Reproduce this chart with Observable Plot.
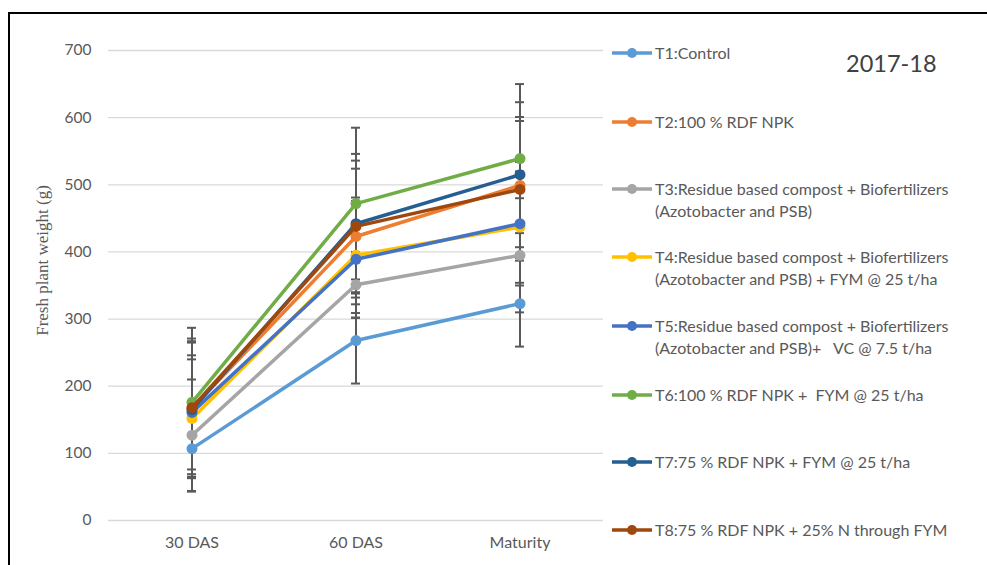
<!DOCTYPE html>
<html>
<head>
<meta charset="utf-8">
<script src="https://cdn.jsdelivr.net/npm/d3@7"></script>
<script src="https://cdn.jsdelivr.net/npm/@observablehq/plot@0.6"></script>
<style>
  html, body { margin: 0; padding: 0; background: #fff; }
  #wrap { position: relative; width: 987px; height: 565px; overflow: hidden; font-family: Lato, "Open Sans", sans-serif; }
  #frame { position: absolute; left: 8px; top: 12px; width: 990px; height: 600px; border-left: 2px solid #000; border-top: 2px solid #000; box-sizing: border-box; pointer-events: none; }
  #year { position: absolute; left: 846px; top: 49px; font-size: 23.5px; color: #404040; }
  .leg { position: absolute; left: 612px; }
  .leg svg { position: absolute; left: 0; top: 0; }
  .leg .txt { position: absolute; left: 43px; top: -11px; white-space: pre; font-size: 16px; line-height: 22px; color: #595959; }
</style>
</head>
<body>
<div id="wrap"><div id="chart"></div><div id="frame"></div><div id="year">2017-18</div></div>
<script>
const stages = ["30 DAS", "60 DAS", "Maturity"];
const treatments = ["T1:Control", "T2:100 % RDF NPK", "T3:Residue based compost + Biofertilizers (Azotobacter and PSB)", "T4:Residue based compost + Biofertilizers (Azotobacter and PSB) + FYM @ 25 t/ha", "T5:Residue based compost + Biofertilizers (Azotobacter and PSB)+   VC @ 7.5 t/ha", "T6:100 % RDF NPK +  FYM @ 25 t/ha", "T7:75 % RDF NPK + FYM @ 25 t/ha", "T8:75 % RDF NPK + 25% N through FYM"];
const legendLines = [
  ["T1:Control"],
  ["T2:100 % RDF NPK"],
  ["T3:Residue based compost + Biofertilizers", "(Azotobacter and PSB)"],
  ["T4:Residue based compost + Biofertilizers", "(Azotobacter and PSB) + FYM @ 25 t/ha"],
  ["T5:Residue based compost + Biofertilizers", "(Azotobacter and PSB)+   VC @ 7.5 t/ha"],
  ["T6:100 % RDF NPK +  FYM @ 25 t/ha"],
  ["T7:75 % RDF NPK + FYM @ 25 t/ha"],
  ["T8:75 % RDF NPK + 25% N through FYM"]
];
const colors = ["#5B9BD5", "#ED7D31", "#A5A5A5", "#FFC000", "#4472C4", "#70AD47", "#255E91", "#9E480E"];
// mean values per treatment at 30 DAS, 60 DAS, Maturity
const T1 = [107, 268, 323];
const T2 = [167, 423, 499];
const T3 = [127, 351, 395];
const T4 = [152, 395, 437];
const T5 = [161, 389, 442];
const T6 = [176, 472, 539];
const T7 = [165, 442, 515];
const T8 = [168, 438, 493];
// error bar half-lengths
const E1 = [64, 64, 64];
const E2 = [98, 101, 102];
const E3 = [83, 49, 85];
const E4 = [88, 86, 83];
const E5 = [85, 87, 92];
const E6 = [111, 113, 111];
const E7 = [102, 104, 108];
const E8 = [103, 98, 102];
const yTicks = [0, 100, 200, 300, 400, 500, 600, 700];
const yLabel = "Fresh plant weight (g)";

const series = [T1, T2, T3, T4, T5, T6, T7, T8];
const errs = [E1, E2, E3, E4, E5, E6, E7, E8];
const data = [];
series.forEach((vals, i) => vals.forEach((v, j) => data.push({t: treatments[i], idx: i, stage: stages[j], value: v, lo: v - errs[i][j], hi: v + errs[i][j]})));

const marks = [
  Plot.gridY(yTicks, {stroke: "#d9d9d9", strokeOpacity: 1, strokeWidth: 1.3}),
  Plot.axisY(yTicks, {tickSize: 0, tickPadding: 17, fontSize: 15.5, fill: "#595959", label: null}),
  Plot.axisX({tickSize: 0, tickPadding: 16, fontSize: 16, fill: "#595959", label: null}),
  Plot.text([yLabel], {frameAnchor: "left", dx: -66, dy: -25, rotate: -90, textAnchor: "middle", fontSize: 17, fontFamily: "Liberation Serif", fill: "#595959"}),
  Plot.ruleX(data, {x: "stage", y1: "lo", y2: "hi", stroke: "#595959", strokeWidth: 2}),
  Plot.tickY(data, {x: "stage", y: "lo", stroke: "#595959", strokeWidth: 2}),
  Plot.tickY(data, {x: "stage", y: "hi", stroke: "#595959", strokeWidth: 2})
];
treatments.forEach((t, i) => {
  const d = data.filter(r => r.idx === i);
  marks.push(Plot.line(d, {x: "stage", y: "value", stroke: colors[i], strokeWidth: 3.5}));
  marks.push(Plot.dot(d, {x: "stage", y: "value", r: 5.5, fill: colors[i], stroke: "none"}));
});

const chart = Plot.plot({
  width: 987,
  height: 565,
  marginLeft: 108,
  marginRight: 384,
  marginTop: 50,
  marginBottom: 45,
  style: {fontFamily: "Lato, 'Open Sans', sans-serif", background: "transparent"},
  x: {type: "band", domain: stages, paddingInner: 0.945, paddingOuter: 0.4727, align: 0.5},
  y: {domain: [0, 700]},
  marks
});
document.getElementById("chart").appendChild(chart);

const rowsY = [53, 122, 189, 257, 326, 395, 462, 530];
const wrap = document.getElementById("wrap");
legendLines.forEach((lines, i) => {
  const div = document.createElement("div");
  div.className = "leg";
  div.style.top = rowsY[i] + "px";
  div.innerHTML = `<svg width="42" height="12" style="top:-6px" ><line x1="0" x2="40" y1="6" y2="6" stroke="${colors[i]}" stroke-width="3.5"/><circle cx="20" cy="6" r="5" fill="${colors[i]}"/></svg><div class="txt">${lines.join("\n")}</div>`;
  wrap.appendChild(div);
});
</script>
</body>
</html>
